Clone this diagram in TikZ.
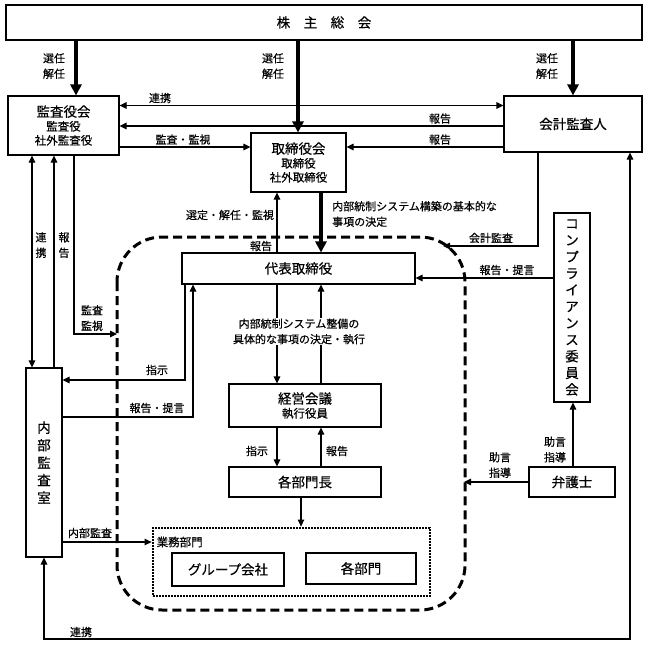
\documentclass[tikz,border=0pt]{standalone}
\usepackage{fontspec}
\setmainfont{Noto Sans CJK JP}[FakeBold=0.5]
\usetikzlibrary{arrows.meta}
\newcommand\fbig{\fontsize{13.5}{17}\selectfont}
\newcommand\fsubx{\fontsize{11.5}{14}\selectfont}
\newcommand\flab{\fontsize{11}{15.5}\selectfont}
\begin{document}
\begin{tikzpicture}[x=1pt,y=-1pt,
  box/.style={draw,line width=1.1pt,fill=white,inner sep=0pt,align=center},
  lab/.style={inner sep=0pt,align=center,font=\flab},
  con/.style={line width=1.1pt,-{Triangle[length=7pt,width=6.5pt]}},
  bicon/.style={line width=1.1pt,{Triangle[length=7pt,width=6.5pt]}-{Triangle[length=7pt,width=6.5pt]}},
  plainline/.style={line width=1.1pt},
  thickarrow/.style={line width=3.5pt,-{Triangle[length=11pt,width=11pt]}},
  region/.style={line width=3pt,dash pattern=on 9pt off 5pt,rounded corners=45pt},
  dottedbox/.style={draw,line width=2.8pt,dash pattern=on 1.8pt off 1.2pt,inner sep=0pt},
]
\useasboundingbox (0,0) rectangle (648,650);

% dashed region
\draw[region] (117,237) rectangle (465,610);

% boxes
\node[box,minimum width=636pt,minimum height=35pt,font=\fbig] (kabu) at (324,22.5) {株　主　総　会};
\node[box,minimum width=111pt,minimum height=59pt,font=\fsubx] (kansa) at (63.5,125.5) {{\fontsize{13.5}{14}\selectfont 監査役会}\\監査役\\社外監査役};
\node[box,minimum width=138pt,minimum height=56pt,font=\fbig] (kaikei) at (573,124) {会計監査人};
\node[box,minimum width=95pt,minimum height=59pt,font=\fsubx] (tori) at (298.5,162.5) {{\fontsize{13.5}{13}\selectfont 取締役会}\\取締役\\社外取締役};
\node[box,minimum width=233pt,minimum height=31pt,font=\fbig] (daihyo) at (298.5,268.5) {代表取締役};
\node[box,minimum width=152pt,minimum height=43pt,font=\fsubx] (keiei) at (305,405.5) {{\fontsize{13.5}{16}\selectfont 経営会議}\\執行役員};
\node[box,minimum width=152pt,minimum height=30pt,font=\fbig] (bucho) at (305,482) {各部門長};
\node[box,minimum width=36pt,minimum height=189pt,font=\fontsize{13.5}{17.5}\selectfont] (naibu) at (44,462.5) {内\\部\\監\\査\\室};
\node[box,minimum width=36pt,minimum height=189pt,font=\fontsize{13.5}{16.6}\selectfont] (comp) at (572,307.5) {コ\\ン\\プ\\ラ\\イ\\ア\\ン\\ス\\委\\員\\会};
\node[box,minimum width=86pt,minimum height=30pt,font=\fbig] (bengo) at (572,482) {弁護士};
\node[dottedbox,minimum width=277pt,minimum height=68pt] (gyomu) at (291.5,562) {};
\node[inner sep=0pt,anchor=west,font=\fontsize{11.5}{14}\selectfont] (gyomulab) at (156.5,542) {業務部門};
\node[box,minimum width=112pt,minimum height=33pt,font=\fbig] (group) at (228,569.5) {グループ会社};
\node[box,minimum width=110pt,minimum height=31pt,font=\fbig] (bumon) at (361,568.5) {各部門};

% helper coordinates
\coordinate (xa) at (76,0);
\coordinate (xb) at (298,0);
\coordinate (xc) at (573,0);
\coordinate (y105) at (0,105.5);
\coordinate (y126) at (0,126);
\coordinate (y147) at (0,147);
\coordinate (x32) at (32,0);
\coordinate (x54) at (54,0);
\coordinate (x74) at (74,0);
\coordinate (c334) at (74,334);
\coordinate (e334) at (117,334);
\coordinate (x277) at (277,0);
\coordinate (x321) at (321,0);
\coordinate (x538) at (538,0);
\coordinate (c246) at (538,246);
\coordinate (e246) at (443,246);
\coordinate (y278) at (0,278);
\coordinate (e482) at (464,482);
\coordinate (c380) at (185,380);
\coordinate (y380) at (0,380);
\coordinate (x185) at (185,0);
\coordinate (c417) at (193,417);
\coordinate (y417) at (0,417);
\coordinate (x193) at (193,0);
\coordinate (x301) at (301,0);
\coordinate (y542) at (0,542);
\coordinate (b1) at (44,639);
\coordinate (b2) at (630,639);
\coordinate (x630) at (630,0);

% thick arrows from shareholders
\draw[thickarrow] (kabu.south -| xa) -- (kansa.north -| xa);
\draw[thickarrow] (kabu.south -| xb) -- (tori.north -| xb);
\draw[thickarrow] (kabu.south -| xc) -- (kaikei.north -| xc);
\node[lab] (l1) at (54,66) {選任\\解任};
\node[lab] (l2) at (273,66) {選任\\解任};
\node[lab] (l3) at (547,66) {選任\\解任};

% kansa <-> kaikei
\draw[bicon] (kansa.east |- y105) -- (kaikei.west |- y105);
\node[lab] (l4) at (160,98) {連携};
\draw[con] (kaikei.west |- y126) -- (kansa.east |- y126);
\node[lab] (l5) at (440,118.5) {報告};
\draw[con] (kaikei.west |- y147) -- (tori.east |- y147);
\node[lab] (l6) at (440,139.5) {報告};
\draw[con] (kansa.east |- y147) -- (tori.west |- y147);
\node[lab] (l7) at (183,139.5) {監査・監視};

% kansa <-> naibu
\draw[bicon] (kansa.south -| x32) -- (naibu.north -| x32);
\node[lab] (l8) at (41,245) {連\\携};
\draw[con] (naibu.north -| x54) -- (kansa.south -| x54);
\node[lab] (l9) at (64,245) {報\\告};
\draw[con] (kansa.south -| x74) -- (c334) -- (e334);
\node[lab] (l10) at (92,318) {監査\\監視};

% tori <-> daihyo
\draw[thickarrow] (tori.south -| x321) -- (daihyo.north -| x321);
\draw[con] (daihyo.north -| x277) -- (tori.south -| x277);
\node[lab] (l11) at (230,215) {選定・解任・監視};
\node[lab] (l12) at (261,246) {報告};
\node[lab,align=left,anchor=west] (l13) at (332,214) {内部統制システム構築の基本的な\\事項の決定};

% kaikei audit
\draw[con] (kaikei.south -| x538) -- (c246) -- (e246);
\node[lab] (l14) at (491,238) {会計監査};

% compliance
\draw[con] (comp.west |- y278) -- (daihyo.east |- y278);
\node[lab] (l15) at (507,270) {報告・提言};
\draw[con] (bengo.north -| xc) -- (comp.south -| xc);
\node[lab] (l16) at (555,449.5) {助言\\指導};
\draw[con] (bengo.west) -- (e482);
\node[lab] (l17) at (500,465) {助言\\指導};

% daihyo <-> naibu
\draw[con] (daihyo.south -| x185) -- (c380) -- (naibu.east |- y380);
\node[lab] (l18) at (157,370) {指示};
\draw[con] (naibu.east |- y417) -- (c417) -- (daihyo.south -| x193);
\node[lab] (l19) at (157,408) {報告・提言};

% daihyo <-> keiei
\draw[con] (daihyo.south -| x277) -- (keiei.north -| x277);
\draw[con] (keiei.north -| x321) -- (daihyo.south -| x321);
\node[lab,fill=white,inner sep=1pt] (l20) at (299,331.5) {内部統制システム整備の\\具体的な事項の決定・執行};

% keiei <-> bucho
\draw[con] (keiei.south -| x277) -- (bucho.north -| x277);
\node[lab] (l21) at (257,451) {指示};
\draw[con] (bucho.north -| x321) -- (keiei.south -| x321);
\node[lab] (l22) at (337,451) {報告};

% bucho -> gyomu
\draw[con] (bucho.south -| x301) -- (gyomu.north -| x301);

% naibu -> gyomu
\draw[con] (naibu.east |- y542) -- (gyomu.west |- y542);
\node[lab] (l23) at (90,533) {内部監査};

% bottom link
\draw[bicon] (naibu.south) -- (b1) -- (b2) -- (kaikei.south -| x630);
\node[lab] (l24) at (81,632) {連携};
\end{tikzpicture}
\end{document}
